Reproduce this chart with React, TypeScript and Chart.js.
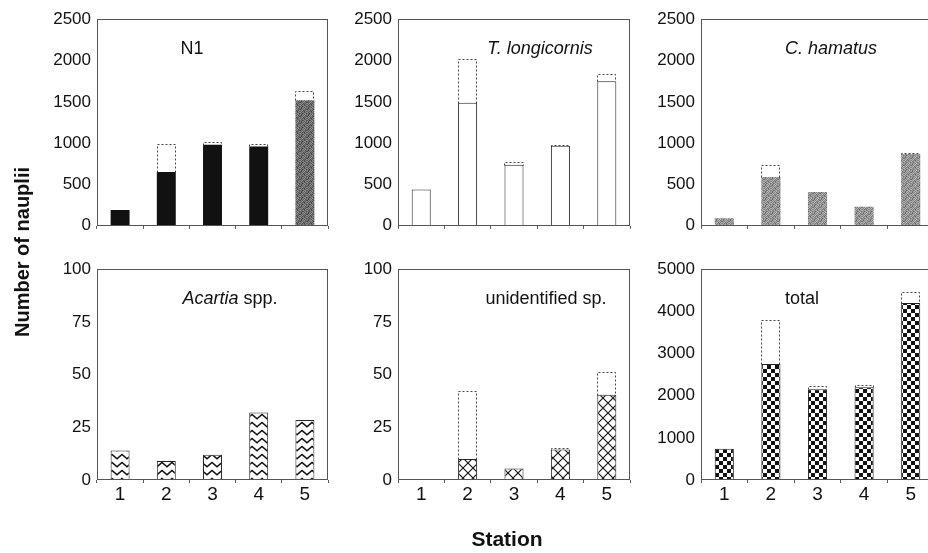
import React, { useEffect, useRef } from 'react';
import { Chart, registerables } from 'chart.js';
Chart.register(...registerables);

// ---- data ----
const stations = ['1', '2', '3', '4', '5'];

const n1Mean = [190, 650, 980, 960, 1520];
const n1Max = [190, 990, 1010, 990, 1630];

const tlongMean = [440, 1490, 740, 970, 1750];
const tlongMax = [440, 2020, 770, 980, 1840];

const chamMean = [90, 590, 410, 230, 870];
const chamMax = [90, 730, 410, 230, 880];

const acartiaMean = [14, 9, 12, 32, 28.5];
const acartiaMax = [14, 9, 12, 32, 28.5];

const unidMean = [0, 10, 5.5, 14.5, 40.5];
const unidMax = [0, 42, 5.5, 15, 51];

const totalMean = [740, 2750, 2150, 2200, 4200];
const totalMax = [740, 3800, 2230, 2250, 4450];

const yAxisTitle = 'Number of nauplii';
const xAxisTitle = 'Station';

type Seg = [string, boolean];
const titleN1: Seg[] = [['N1', false]];
const titleTlong: Seg[] = [['T. longicornis', true]];
const titleCham: Seg[] = [['C. hamatus', true]];
const titleAcartia: Seg[] = [['Acartia', true], [' spp.', false]];
const titleUnid: Seg[] = [['unidentified sp.', false]];
const titleTotal: Seg[] = [['total', false]];

const FONT = '"Liberation Sans", Arial, Helvetica, sans-serif';

// ---- patterns ----
function tile(w: number, h: number, draw: (c: CanvasRenderingContext2D) => void) {
  const cv = document.createElement('canvas');
  cv.width = w;
  cv.height = h;
  const c = cv.getContext('2d')!;
  draw(c);
  return c.createPattern(cv, 'repeat') as CanvasPattern;
}

function stipple(base: number) {
  const m = [
    [10, -40, 25, -10, 45, -25, 5],
    [-35, 20, -15, 40, -5, 15, -30],
    [25, -5, 45, -30, 10, -20, 35],
    [-15, 35, -25, 5, -40, 30, -5],
    [40, -20, 10, 25, -15, -5, 20],
    [-5, 15, -40, -10, 30, 20, -25],
    [20, -30, 5, 35, -20, 45, -10],
  ];
  return tile(7, 7, (c) => {
    for (let y = 0; y < 7; y++)
      for (let x = 0; x < 7; x++) {
        const v = Math.max(0, Math.min(255, base + m[y][x]));
        c.fillStyle = `rgb(${v},${v},${v})`;
        c.fillRect(x, y, 1, 1);
      }
  });
}

function chevron() {
  return tile(10, 8, (c) => {
    c.fillStyle = '#fff';
    c.fillRect(0, 0, 10, 8);
    c.strokeStyle = '#111';
    c.lineWidth = 1.6;
    c.beginPath();
    c.moveTo(-1, 6.5);
    c.lineTo(5, 1.5);
    c.lineTo(11, 6.5);
    c.stroke();
  });
}

function crosshatch() {
  return tile(10, 10, (c) => {
    c.fillStyle = '#fff';
    c.fillRect(0, 0, 10, 10);
    c.strokeStyle = '#111';
    c.lineWidth = 1.1;
    c.beginPath();
    c.moveTo(0, 0);
    c.lineTo(10, 10);
    c.moveTo(10, 0);
    c.lineTo(0, 10);
    c.stroke();
  });
}

function checker() {
  return tile(8, 8, (c) => {
    c.fillStyle = '#fff';
    c.fillRect(0, 0, 8, 8);
    c.fillStyle = '#111';
    c.fillRect(0, 0, 4, 4);
    c.fillRect(4, 4, 4, 4);
  });
}

// ---- plugin ----
const decoPlugin = {
  id: 'deco',
  afterDatasetsDraw(chart: any) {
    const ctx = chart.ctx as CanvasRenderingContext2D;
    const meta = chart.getDatasetMeta(1);
    const vals = chart.data.datasets[1].data as number[];
    ctx.save();
    ctx.setLineDash([2, 2]);
    ctx.strokeStyle = '#444';
    ctx.lineWidth = 1;
    meta.data.forEach((el: any, i: number) => {
      if (!vals[i]) return;
      const p = el.getProps(['x', 'y', 'base', 'width'], true);
      const l = Math.round(p.x - p.width / 2) + 0.5;
      const r = Math.round(p.x + p.width / 2) - 0.5;
      const t = Math.round(p.y) + 0.5;
      const b = Math.round(p.base) + 0.5;
      ctx.beginPath();
      ctx.moveTo(l, b);
      ctx.lineTo(l, t);
      ctx.lineTo(r, t);
      ctx.lineTo(r, b);
      ctx.stroke();
    });
    ctx.restore();
  },
  afterDraw(chart: any, _a: any, opts: any) {
    const ctx = chart.ctx as CanvasRenderingContext2D;
    const { left, top, right, bottom } = chart.chartArea;
    ctx.save();
    ctx.strokeStyle = '#555';
    ctx.lineWidth = 1;
    ctx.strokeRect(Math.round(left) + 0.5, Math.round(top) + 0.5, Math.round(right - left) - 1, Math.round(bottom - top) - 1);
    const segs: Seg[] = opts.title || [];
    const fonts = segs.map(([, it]) => `${it ? 'italic ' : ''}18px ${FONT}`);
    let total = 0;
    const widths = segs.map(([t], i) => {
      ctx.font = fonts[i];
      const w = ctx.measureText(t).width;
      total += w;
      return w;
    });
    let x = left + opts.titleX - total / 2;
    ctx.fillStyle = '#111';
    ctx.textBaseline = 'alphabetic';
    ctx.textAlign = 'left';
    segs.forEach(([t], i) => {
      ctx.font = fonts[i];
      ctx.fillText(t, x, top + 35);
      x += widths[i];
    });
    ctx.restore();
  },
};

type PanelDef = {
  title: Seg[];
  titleX: number;
  mean: number[];
  max: number[];
  yMax: number;
  step: number;
  left: number;
  right: number;
  top: number;
  bottomRow: boolean;
  fill: string;
  border: number;
};

const PLOT_H = 213;
const Y_W = 70;
const PAD_T = 14;
const PAD_R = 2;

const panels: PanelDef[] = [
  { title: titleN1, titleX: 95, mean: n1Mean, max: n1Max, yMax: 2500, step: 500, left: 97, right: 328, top: 17, bottomRow: false, fill: 'n1', border: 0 },
  { title: titleTlong, titleX: 142, mean: tlongMean, max: tlongMax, yMax: 2500, step: 500, left: 398, right: 630, top: 17, bottomRow: false, fill: 'white', border: 1 },
  { title: titleCham, titleX: 130, mean: chamMean, max: chamMax, yMax: 2500, step: 500, left: 701, right: 934, top: 17, bottomRow: false, fill: 'gray', border: 0 },
  { title: titleAcartia, titleX: 133, mean: acartiaMean, max: acartiaMax, yMax: 100, step: 25, left: 97, right: 328, top: 267, bottomRow: true, fill: 'chevron', border: 1 },
  { title: titleUnid, titleX: 148, mean: unidMean, max: unidMax, yMax: 100, step: 25, left: 398, right: 630, top: 267, bottomRow: true, fill: 'cross', border: 1 },
  { title: titleTotal, titleX: 101, mean: totalMean, max: totalMax, yMax: 5000, step: 1000, left: 701, right: 934, top: 267, bottomRow: true, fill: 'checker', border: 1 },
];

function Panel({ def }: { def: PanelDef }) {
  const ref = useRef<HTMLCanvasElement>(null);
  const xh = def.bottomRow ? 36 : 12;
  const w = Y_W + (def.right - def.left) + PAD_R;
  const h = PAD_T + PLOT_H + xh;
  useEffect(() => {
    const canvas = ref.current!;
    let bg: any;
    if (def.fill === 'n1') {
      const dark = stipple(105);
      bg = def.mean.map((_, i) => (i === 4 ? dark : '#111'));
    } else if (def.fill === 'white') bg = '#fff';
    else if (def.fill === 'gray') bg = stipple(145);
    else if (def.fill === 'chevron') bg = chevron();
    else if (def.fill === 'cross') bg = crosshatch();
    else bg = checker();
    const extra = def.max.map((m, i) => Math.max(0, m - def.mean[i]));
    const chart = new Chart(canvas, {
      type: 'bar',
      data: {
        labels: stations,
        datasets: [
          {
            data: def.mean,
            backgroundColor: bg,
            borderColor: '#222',
            borderWidth: def.border,
            barPercentage: 0.41,
            categoryPercentage: 1,
          },
          {
            data: extra,
            backgroundColor: 'rgba(0,0,0,0)',
            borderWidth: 0,
            barPercentage: 0.41,
            categoryPercentage: 1,
          },
        ],
      },
      options: {
        animation: false,
        responsive: false,
        devicePixelRatio: 1,
        layout: { padding: { top: PAD_T, right: PAD_R, left: 0, bottom: 0 } },
        plugins: {
          legend: { display: false },
          tooltip: { enabled: false },
          deco: { title: def.title, titleX: def.titleX },
        } as any,
        scales: {
          x: {
            stacked: true,
            grid: { display: true, drawOnChartArea: false, drawTicks: true, tickLength: 3, color: '#555', offset: true },
            border: { display: false },
            ticks: { display: def.bottomRow, padding: 0, color: '#111', font: { family: FONT, size: 19 } },
            afterFit(s: any) {
              s.height = xh;
            },
          },
          y: {
            stacked: true,
            min: 0,
            max: def.yMax,
            grid: { display: false, drawTicks: false },
            border: { display: false },
            ticks: {
              stepSize: def.step,
              padding: 6,
              color: '#111',
              font: { family: FONT, size: 17 },
              callback: (v: any) => String(v),
            },
            afterFit(s: any) {
              s.width = Y_W;
            },
          },
        },
      },
      plugins: [decoPlugin as any],
    });
    return () => chart.destroy();
  }, []);
  return (
    <canvas
      ref={ref}
      width={w}
      height={h}
      style={{ position: 'absolute', left: def.left - Y_W, top: def.top - PAD_T, width: w, height: h }}
    />
  );
}

export default function App() {
  return (
    <div
      style={{
        position: 'absolute',
        left: 0,
        top: 0,
        width: 928,
        height: 553,
        overflow: 'hidden',
        background: '#fff',
        fontFamily: FONT,
        color: '#111',
      }}
    >
      {panels.map((p, i) => (
        <Panel key={i} def={p} />
      ))}
      <div
        style={{
          position: 'absolute',
          left: 22 - 120,
          top: 252 - 12,
          width: 240,
          height: 24,
          lineHeight: '24px',
          textAlign: 'center',
          fontSize: 20,
          fontWeight: 'bold',
          transform: 'rotate(-90deg)',
          transformOrigin: '50% 50%',
          whiteSpace: 'nowrap',
        }}
      >
        {yAxisTitle}
      </div>
      <div
        style={{
          position: 'absolute',
          left: 507 - 100,
          top: 528,
          width: 200,
          height: 21,
          lineHeight: '21px',
          textAlign: 'center',
          fontSize: 21,
          fontWeight: 'bold',
          whiteSpace: 'nowrap',
        }}
      >
        {xAxisTitle}
      </div>
    </div>
  );
}
